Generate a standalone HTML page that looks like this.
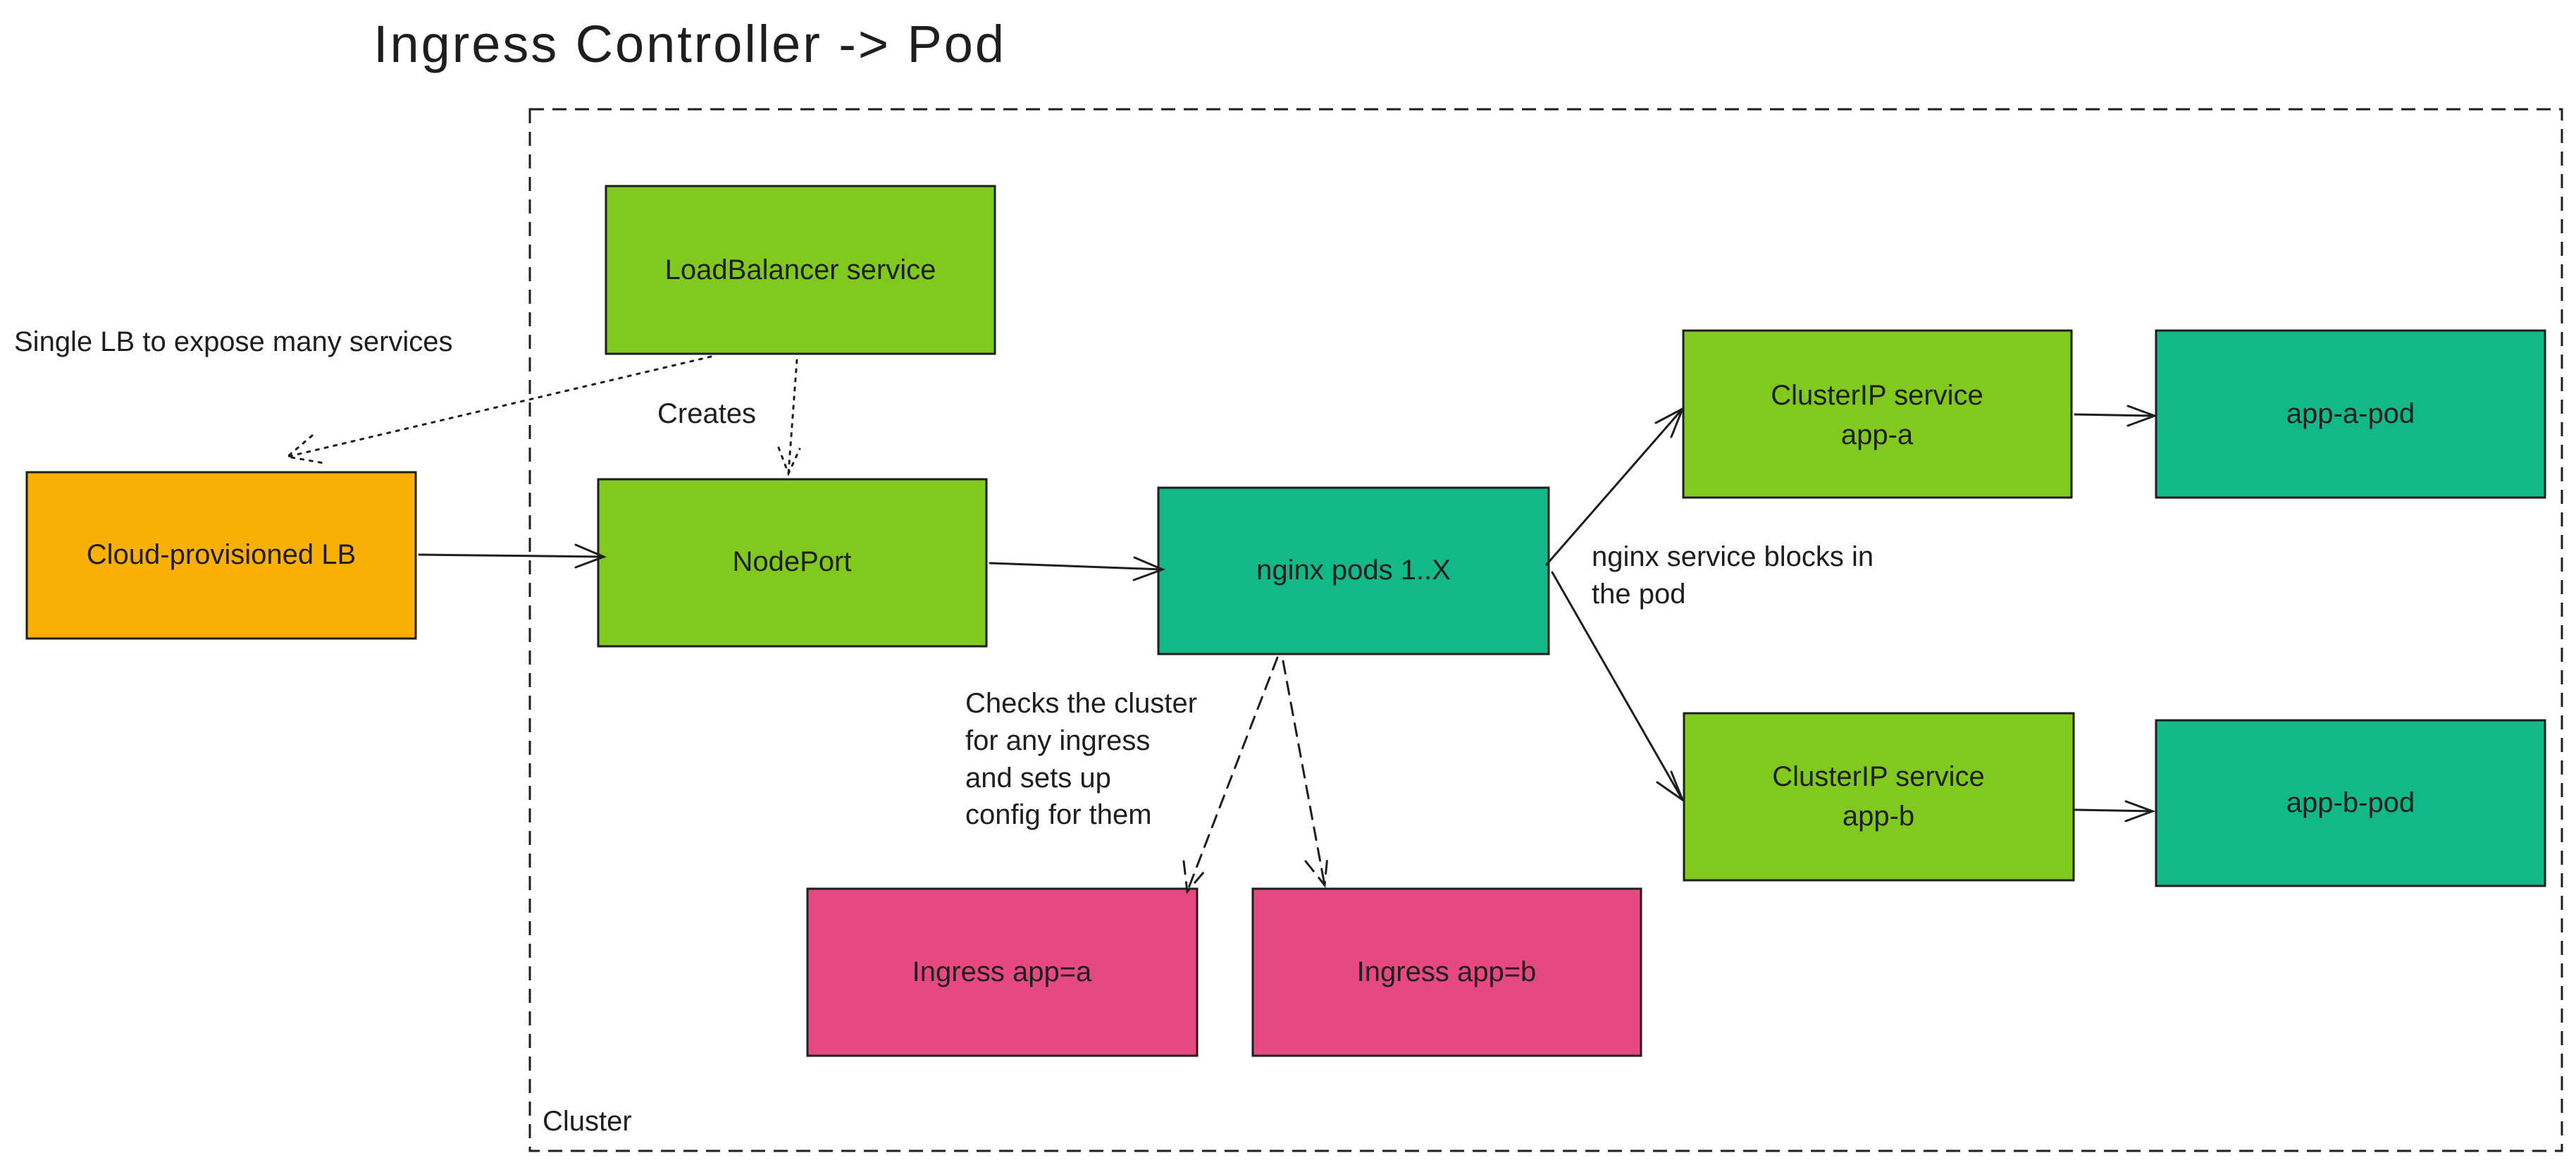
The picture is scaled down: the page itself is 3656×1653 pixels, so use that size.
<!DOCTYPE html>
<html><head><meta charset="utf-8"><style>
html,body{margin:0;padding:0;background:#fff;}
svg{display:block;}
text{font-family:"Liberation Sans",sans-serif;fill:#1e1e1e;}
</style></head><body>
<svg width="3656" height="1653" viewBox="0 0 3656 1653" xmlns="http://www.w3.org/2000/svg">
<text x="530" y="88" font-size="74" textLength="895" lengthAdjust="spacing">Ingress Controller -&gt; Pod</text>
<rect x="752" y="155" width="2884" height="1478" fill="none" stroke="#1e1e1e" stroke-width="3" stroke-dasharray="20 12"/>
<text x="770" y="1604" font-size="40">Cluster</text>
<g stroke="#1e1e1e" stroke-width="3">
<rect x="860" y="264" width="552" height="238" fill="#82c91e"/>
<rect x="38" y="670" width="552" height="236" fill="#fab005"/>
<rect x="849" y="680" width="551" height="237" fill="#82c91e"/>
<rect x="1644" y="692" width="554" height="236" fill="#12b886"/>
<rect x="1146" y="1261" width="553" height="237" fill="#e64980"/>
<rect x="1778" y="1261" width="551" height="237" fill="#e64980"/>
<rect x="2389" y="469" width="551" height="237" fill="#82c91e"/>
<rect x="3060" y="469" width="552" height="237" fill="#12b886"/>
<rect x="2390" y="1012" width="553" height="237" fill="#82c91e"/>
<rect x="3060" y="1022" width="552" height="235" fill="#12b886"/>
</g>
<g font-size="40" text-anchor="middle">
<text x="1136" y="396">LoadBalancer service</text>
<text x="314" y="800">Cloud-provisioned LB</text>
<text x="1124" y="810">NodePort</text>
<text x="1921" y="822">nginx pods 1..X</text>
<text x="1422" y="1392">Ingress app=a</text>
<text x="2053" y="1392">Ingress app=b</text>
<text x="2664" y="574">ClusterIP service</text>
<text x="2664" y="630">app-a</text>
<text x="3336" y="600">app-a-pod</text>
<text x="2666" y="1115">ClusterIP service</text>
<text x="2666" y="1171">app-b</text>
<text x="3336" y="1152">app-b-pod</text>
</g>
<g font-size="40">
<text x="20" y="498">Single LB to expose many services</text>
<text x="933" y="600">Creates</text>
<text x="1370" y="1011">Checks the cluster</text>
<text x="1370" y="1064">for any ingress</text>
<text x="1370" y="1117">and sets up</text>
<text x="1370" y="1169">config for them</text>
<text x="2259" y="803">nginx service blocks in</text>
<text x="2259" y="856">the pod</text>
</g>
<g stroke="#1e1e1e" stroke-width="3" fill="none" stroke-linecap="round">
<path d="M595 787 L857 790 M817 773 L857 790 L817 805"/>
<path d="M1405 799 L1650 808 M1610 791 L1650 808 L1609 823"/>
<path d="M2195 801 L2388 580 M2350 600 L2388 580 L2372 620"/>
<path d="M2203 812 L2388 1135 M2372 1095 L2388 1135 L2352 1110"/>
<path d="M2945 588 L3058 590 M3020 576 L3058 590 L3020 604"/>
<path d="M2944 1149 L3055 1151 M3017 1137 L3055 1151 L3017 1165"/>
<path d="M1813 933 L1685 1265 M1680 1222 L1685 1265 L1713 1232" stroke-dasharray="18 12"/>
<path d="M1821 938 L1880 1256 M1853 1222 L1880 1256 L1884 1215" stroke-dasharray="18 12"/>
<path d="M1131 511 L1119 672 M1105 635 L1119 672 L1135 637" stroke-dasharray="4 9"/>
<path d="M1009 506 L408 648 M443 618 L408 648 L465 658" stroke-dasharray="4 9"/>
</g>
</svg>
</body></html>
